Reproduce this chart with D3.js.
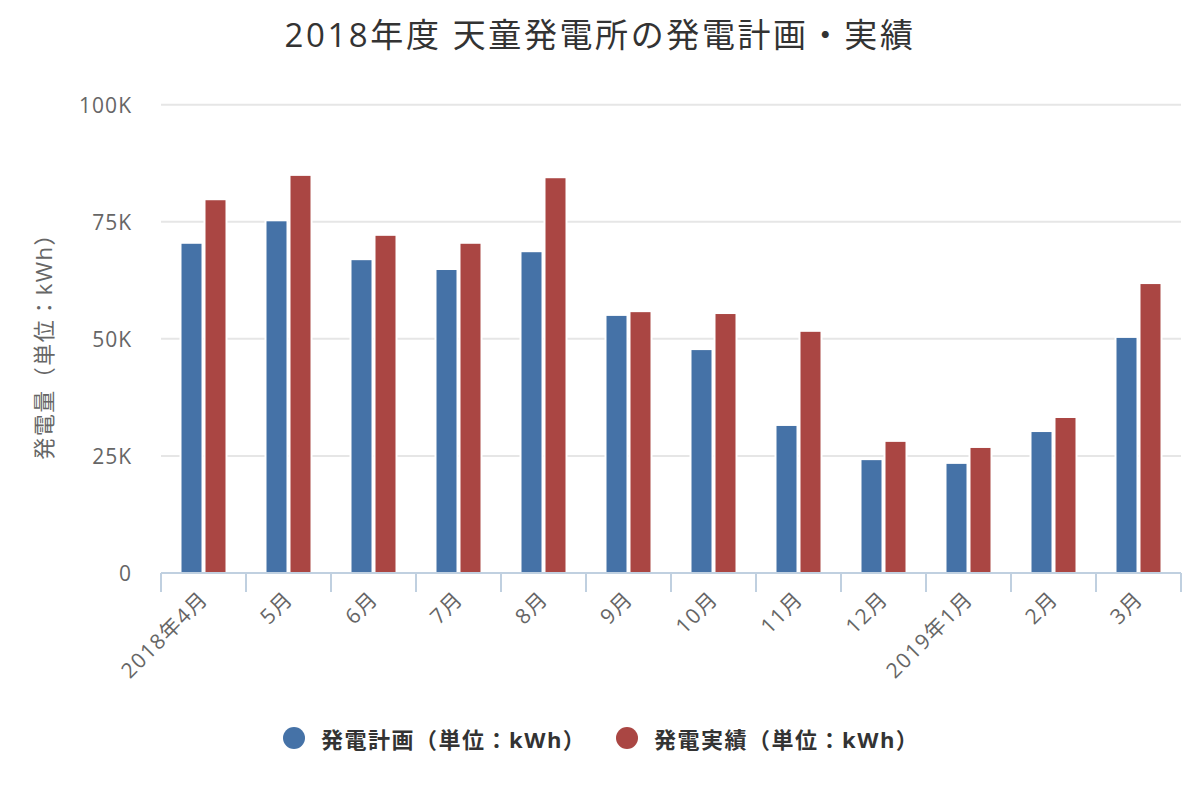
<!DOCTYPE html>
<html>
<head>
<meta charset="utf-8">
<script src="https://cdn.jsdelivr.net/npm/d3@7"></script>
<style>
  html, body { margin: 0; padding: 0; background: #fff; }
  svg text { font-family: "Open Sans", "Noto Sans CJK JP", sans-serif; }
</style>
</head>
<body>
<svg id="chart" width="1200" height="800"></svg>
<script>
const categories = ["2018年4月", "5月", "6月", "7月", "8月", "9月", "10月", "11月", "12月", "2019年1月", "2月", "3月"];
const planValues = [70300, 75100, 66800, 64700, 68500, 54900, 47600, 31400, 24100, 23300, 30100, 50200];
const actualValues = [79600, 84800, 72000, 70300, 84300, 55700, 55300, 51500, 28000, 26700, 33100, 61700];
const seriesNames = ["発電計画（単位：kWh）", "発電実績（単位：kWh）"];
const seriesColors = ["#4572A7", "#AA4643"];
const yTicks = [0, 25000, 50000, 75000, 100000];
const titleText = "2018年度 天童発電所の発電計画・実績";
const yAxisTitle = "発電量（単位：kWh）";

const svg = d3.select("#chart");
const plot = { left: 161, right: 1181, top: 104.7, bottom: 573 };

const x = d3.scaleBand().domain(categories).range([plot.left, plot.right]).padding(0);
const bw = x.bandwidth();
const x1 = d3.scaleBand().domain([0, 1]).range([bw / 2 - 22, bw / 2 + 22]).paddingInner(1 / 6).paddingOuter(0);
const y = d3.scaleLinear().domain([0, 100000]).range([plot.bottom, plot.top]);

// title
svg.append("text")
  .attr("x", 600).attr("y", 47)
  .attr("text-anchor", "middle")
  .attr("fill", "#333")
  .style("font-size", "33px")
  .style("letter-spacing", "2.6px")
  .text(titleText);

// gridlines
svg.append("g").selectAll("line").data(yTicks.filter(d => d > 0)).join("line")
  .attr("x1", plot.left).attr("x2", plot.right)
  .attr("y1", d => y(d)).attr("y2", d => y(d))
  .attr("stroke", "#e6e6e6").attr("stroke-width", 2);

// y axis labels
const yAxis = d3.axisLeft(y).tickValues(yTicks).tickSize(0).tickPadding(0)
  .tickFormat(d => d === 0 ? "0" : (d / 1000) + "K");
const gy = svg.append("g").attr("transform", `translate(${plot.left - 29},0)`).call(yAxis);
gy.select(".domain").remove();
gy.selectAll("text")
  .attr("fill", "#666")
  .style("font-size", "21px")
  .style("letter-spacing", "1px")
  .attr("dy", "0.35em");

// y axis title
svg.append("text")
  .attr("transform", `translate(43,${(plot.top + plot.bottom) / 2 + 2}) rotate(-90)`)
  .attr("text-anchor", "middle")
  .attr("dominant-baseline", "central")
  .attr("fill", "#666")
  .style("font-size", "22px")
  .style("letter-spacing", "1.5px")
  .text(yAxisTitle);

// bars
const groups = svg.append("g").selectAll("g").data(categories).join("g")
  .attr("transform", d => `translate(${x(d)},0)`);
groups.selectAll("rect")
  .data((d, i) => [planValues[i], actualValues[i]].map((v, s) => ({ v, s })))
  .join("rect")
  .attr("x", d => x1(d.s) - 1)
  .attr("width", x1.bandwidth() + 2)
  .attr("y", d => y(d.v) - 1)
  .attr("height", d => y(0) - y(d.v) + 1)
  .attr("fill", d => seriesColors[d.s])
  .attr("stroke", "#fff")
  .attr("stroke-width", 2);

// x axis
const xAxis = d3.axisBottom(x).tickSize(0).tickFormat("");
const gx = svg.append("g").attr("transform", `translate(0,${plot.bottom})`).call(xAxis);
gx.select(".domain").attr("stroke", "#C0D0E0").attr("stroke-width", 2).attr("d", `M${plot.left},0H${plot.right}`);
gx.selectAll(".tick").remove();
const boundaries = categories.map(c => x(c)).concat([plot.right]);
gx.selectAll("line.bound").data(boundaries).join("line")
  .attr("class", "bound")
  .attr("x1", d => d).attr("x2", d => d)
  .attr("y1", 0).attr("y2", 19)
  .attr("stroke", "#C0D0E0").attr("stroke-width", 2);
gx.selectAll("text.lbl").data(categories).join("text")
  .attr("class", "lbl")
  .attr("transform", d => `translate(${x(d) + bw / 2 + 6},${27}) rotate(-45)`)
  .attr("text-anchor", "end")
  .attr("fill", "#666")
  .style("font-size", "21px")
  .style("letter-spacing", "1.5px")
  .text(d => d);

// legend
const legend = svg.append("g");
const legendX = [294, 627];
seriesNames.forEach((name, i) => {
  legend.append("circle").attr("cx", legendX[i]).attr("cy", 738).attr("r", 11).attr("fill", seriesColors[i]);
  legend.append("text")
    .attr("x", legendX[i] + 27).attr("y", 739)
    .attr("dominant-baseline", "central")
    .attr("fill", "#333")
    .style("font-size", "22px")
    .style("font-weight", "bold")
    .style("letter-spacing", "1.5px")
    .text(name);
});
</script>
</body>
</html>
